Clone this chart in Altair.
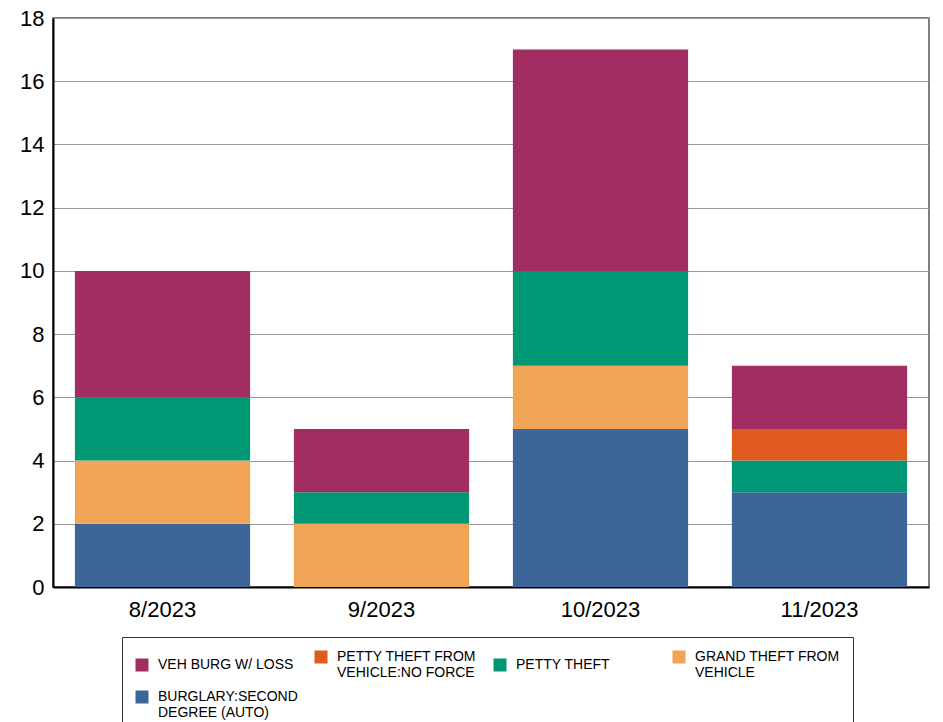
import altair as alt
import pandas as pd

months = ["8/2023", "9/2023", "10/2023", "11/2023"]
categories = [
    "BURGLARY:SECOND DEGREE (AUTO)",
    "GRAND THEFT FROM VEHICLE",
    "PETTY THEFT",
    "PETTY THEFT FROM VEHICLE:NO FORCE",
    "VEH BURG W/ LOSS",
]
colors = ["#3c6698", "#f0a556", "#009775", "#de5a1f", "#a12d62"]
burglary = [2, 0, 5, 3]
grand_theft = [2, 2, 2, 0]
petty_theft = [2, 1, 3, 1]
petty_no_force = [0, 0, 0, 1]
veh_burg = [4, 2, 7, 2]

series = [burglary, grand_theft, petty_theft, petty_no_force, veh_burg]
rows = []
for ci, (cat, vals) in enumerate(zip(categories, series)):
    for m, v in zip(months, vals):
        if v > 0:
            rows.append({"month": m, "type": cat, "count": v, "order": ci})
df = pd.DataFrame(rows)

legend_order = list(reversed(categories))
label_lines = {
    "VEH BURG W/ LOSS": ["VEH BURG W/ LOSS"],
    "PETTY THEFT FROM VEHICLE:NO FORCE": ["PETTY THEFT FROM", "VEHICLE:NO FORCE"],
    "PETTY THEFT": ["PETTY THEFT"],
    "GRAND THEFT FROM VEHICLE": ["GRAND THEFT FROM", "VEHICLE"],
    "BURGLARY:SECOND DEGREE (AUTO)": ["BURGLARY:SECOND", "DEGREE (AUTO)"],
}
expr = "datum.label"
for k, v in label_lines.items():
    arr = "[" + ", ".join("'" + s + "'" for s in v) + "]"
    expr = f"datum.label == '{k}' ? {arr} : ({expr})"

font = "Liberation Sans, Arial, sans-serif"

chart = alt.Chart(df).mark_bar().encode(
    x=alt.X("month:N", sort=months, title=None,
            scale=alt.Scale(paddingInner=0.2, paddingOuter=0.1),
            axis=alt.Axis(labelAngle=0, labelFontSize=22, labelColor="black",
                          labelFont=font, ticks=False, labelPadding=12,
                          domainColor="black", domainWidth=2)),
    y=alt.Y("count:Q", stack="zero", title=None,
            scale=alt.Scale(domain=[0, 18]),
            axis=alt.Axis(values=list(range(0, 19, 2)), labelFontSize=22,
                          labelColor="black", labelFont=font, ticks=False,
                          labelPadding=9, domainColor="black", domainWidth=2,
                          gridColor="#999999", gridWidth=1)),
    color=alt.Color("type:N", sort=legend_order,
                    scale=alt.Scale(domain=legend_order,
                                    range=list(reversed(colors))),
                    legend=alt.Legend(title=None, orient="none", legendX=69,
                                      legendY=619, columns=4, direction="horizontal",
                                      symbolType="square", symbolSize=169,
                                      symbolStrokeWidth=0, labelFontSize=14,
                                      labelFont=font, labelColor="black",
                                      labelOffset=9, labelLimit=220,
                                      gridAlign="all", columnPadding=11,
                                      rowPadding=10, padding=13,
                                      strokeColor="#333333", labelExpr=expr)),
    order=alt.Order("order:Q", sort="ascending"),
).properties(
    width=876, height=569,
    autosize=alt.AutoSizeParams(type="none"),
    padding={"left": 45, "top": 10, "right": 2, "bottom": 150},
).configure_view(stroke="#555555", strokeWidth=1.5)

chart.save("out.html", embed_options={"renderer": "svg", "actions": False})
